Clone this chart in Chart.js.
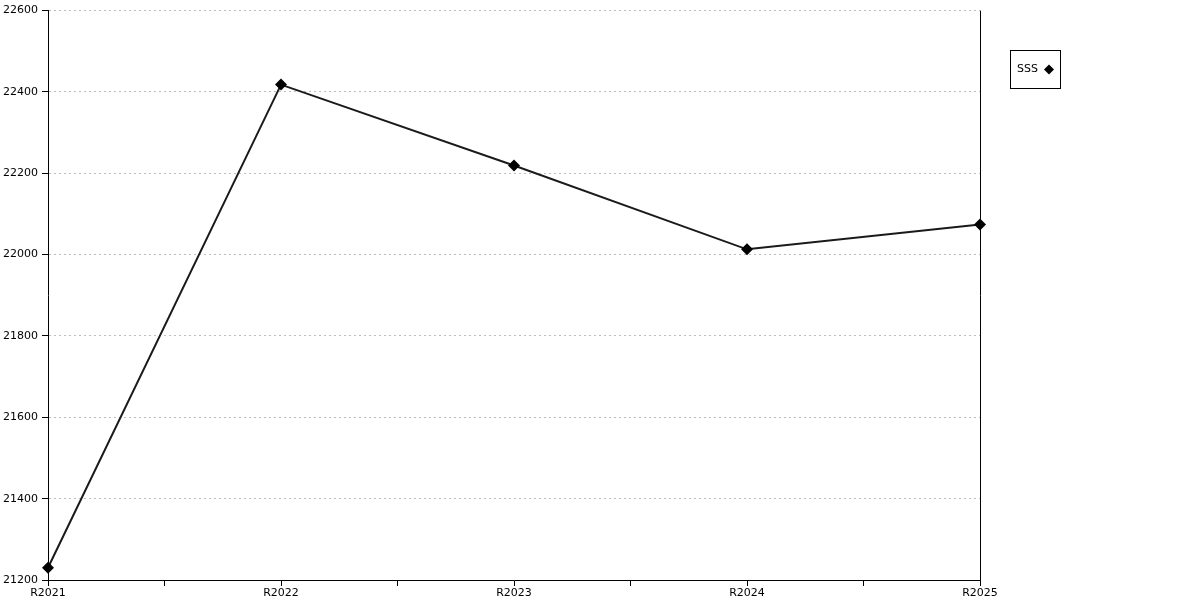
<!DOCTYPE html>
<html>
<head>
<meta charset="utf-8">
<script src="https://cdn.jsdelivr.net/npm/chart.js@4.4.0/dist/chart.umd.min.js"></script>
<style>
  html, body { margin: 0; padding: 0; background: #fff; }
  #wrap { width: 1200px; height: 600px; }
</style>
</head>
<body>
<div id="wrap"><canvas id="chart" width="1200" height="600"></canvas></div>
<script>
// data
const categories = ['R2021', 'R2022', 'R2023', 'R2024', 'R2025'];
const sssValues = [21230, 22418, 22219, 22013, 22074];
const yTicks = [21200, 21400, 21600, 21800, 22000, 22200, 22400, 22600];

const FONT = { family: 'DejaVu Sans', size: 11 };

// right border line + boxed legend
const frame = {
    id: 'frame',
    afterDraw(chart) {
        const ctx = chart.ctx;
        const a = chart.chartArea;
        ctx.save();
        ctx.strokeStyle = '#000';
        ctx.lineWidth = 1;
        ctx.beginPath();
        ctx.moveTo(Math.round(a.right) + 0.5, a.top);
        ctx.lineTo(Math.round(a.right) + 0.5, a.bottom);
        ctx.stroke();

        // legend box
        const ds = chart.data.datasets[0];
        ctx.strokeRect(1010.5, 50.5, 50, 38);
        ctx.fillStyle = '#000';
        ctx.font = '11px "DejaVu Sans"';
        ctx.textBaseline = 'middle';
        ctx.fillText(ds.label, 1017, 69.5);
        ctx.beginPath();
        const cx = 1049, cy = 69.5, r = 5;
        ctx.moveTo(cx, cy - r);
        ctx.lineTo(cx + r, cy);
        ctx.lineTo(cx, cy + r);
        ctx.lineTo(cx - r, cy);
        ctx.closePath();
        ctx.fill();
        ctx.restore();
    }
};

new Chart(document.getElementById('chart'), {
    type: 'line',
    data: {
        datasets: [{
            label: 'SSS',
            data: sssValues.map((v, i) => ({ x: i, y: v })),
            borderColor: '#1a1a1a',
            borderWidth: 2,
            pointStyle: 'rectRot',
            pointRadius: 6,
            pointBackgroundColor: '#000',
            pointBorderColor: '#000',
            pointBorderWidth: 0,
            tension: 0,
            clip: false
        }]
    },
    options: {
        responsive: false,
        animation: false,
        layout: { padding: { left: 0, right: 220, top: 10, bottom: 0 } },
        plugins: { legend: { display: false }, tooltip: { enabled: false } },
        scales: {
            x: {
                type: 'linear',
                min: 0,
                max: categories.length - 1,
                afterFit(s) { s.height = 20; },
                border: { color: '#000', width: 1 },
                grid: { drawOnChartArea: false, tickLength: 6, tickColor: '#000' },
                ticks: {
                    stepSize: 0.5,
                    autoSkip: false,
                    maxRotation: 0,
                    padding: 1,
                    color: '#000',
                    font: FONT,
                    callback: v => Number.isInteger(v) ? categories[v] : ''
                }
            },
            y: {
                min: yTicks[0],
                max: yTicks[yTicks.length - 1],
                afterFit(s) { s.width = 48; },
                afterBuildTicks(s) { s.ticks = yTicks.map(v => ({ value: v })); },
                border: { color: '#000', width: 1, dash: [2, 3] },
                grid: {
                    color: '#bdbdbd',
                    tickLength: 6,
                    tickColor: '#000',
                    tickBorderDash: [0, 0]
                },
                ticks: { padding: 4, color: '#000', font: FONT, callback: v => String(v) }
            }
        }
    },
    plugins: [frame]
});
</script>
</body>
</html>
